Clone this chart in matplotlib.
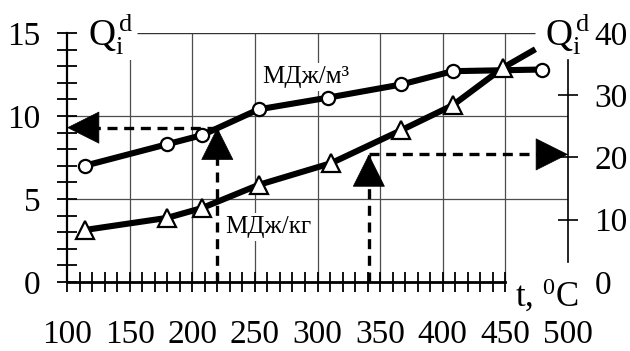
import matplotlib
matplotlib.use("Agg")
import matplotlib.pyplot as plt
from matplotlib.ticker import MultipleLocator

plt.rcParams['font.family'] = ['Liberation Serif', 'DejaVu Serif']
plt.rcParams['mathtext.fontset'] = 'custom'
plt.rcParams['mathtext.rm'] = 'Liberation Serif'
plt.rcParams['mathtext.it'] = 'Liberation Serif:italic'

# data
temp_m3 = [114, 180, 208, 253, 308, 367, 408, 479]
q_m3 = [7.0, 8.3, 8.85, 10.4, 11.1, 11.9, 12.7, 12.8]          # left axis, МДж/м3
temp_kg = [114, 180, 208, 253, 311, 367, 408, 448, 474]
q_kg = [8.35, 10.3, 11.9, 15.6, 19.1, 24.4, 28.4, 34.4, 37.4]   # right axis, МДж/кг

read_t_m3, read_q_m3 = 220, 9.3     # dashed read-off on the m3 curve
read_t_kg, read_q_kg = 341, 20.5    # dashed read-off on the kg curve

x_ticks = [100, 150, 200, 250, 300, 350, 400, 450, 500]
left_ticks = [0, 5, 10, 15]
right_ticks = [0, 10, 20, 30, 40]

fig = plt.figure(figsize=(6.3, 3.51), dpi=100)
ax = fig.add_axes([67/630, 69/351, 501/630, 249/351])
ax2 = ax.twinx()
ax.set_xlim(100, 500)
ax.set_ylim(0, 15)
ax2.set_ylim(0, 40)
ax2.patch.set_visible(False)

# grid
ax.vlines(x_ticks[1:-1], 0, 15, colors='0.3', lw=0.9, zorder=1)
ax.hlines(left_ticks[1:-1], 100, 500, colors='0.3', lw=0.9, zorder=1)

# spines
for s in ['top', 'right']:
    ax.spines[s].set_visible(False)
for s in ['top', 'left', 'bottom']:
    ax2.spines[s].set_visible(False)
ax.spines['left'].set_linewidth(1.6)
ax.spines['bottom'].set_linewidth(2.0)
ax.spines['bottom'].set_bounds(100, 450)
ax2.spines['right'].set_linewidth(1.2)
ax2.spines['right'].set_bounds(3.2, 35.7)
ax.hlines(15, 156, 474, colors='0.2', lw=1.0, zorder=1)

# ticks
ax.set_xticks(x_ticks)
ax.set_xticks([v for v in range(110, 450, 10) if v % 50], minor=True)
ax.set_yticks(left_ticks)
ax.yaxis.set_minor_locator(MultipleLocator(1))
ax.tick_params(which='both', direction='inout', length=14, width=1.3, labelsize=24)
ax.tick_params(axis='x', which='both', pad=20)
ax.tick_params(axis='y', which='both', pad=12)
ax.xaxis.get_major_ticks()[-1].tick1line.set_visible(False)

ax2.set_yticks(right_ticks)
ax2.tick_params(direction='inout', length=14, width=1.2, labelsize=24, pad=12)
ax2.yaxis.get_major_ticks()[0].tick2line.set_visible(False)
ax2.yaxis.get_major_ticks()[-1].tick2line.set_visible(False)

# curves
ax.plot(temp_m3, q_m3, color='k', lw=4.4, marker='o', ms=9.5, mfc='white',
        mec='k', mew=1.6, zorder=5, solid_capstyle='butt')
ax.plot(temp_kg, q_kg, color='k', lw=4.4, marker='^', ms=13.5, mfc='white',
        mec='k', mew=1.6, markevery=list(range(len(temp_kg) - 1)),
        transform=ax2.transData, zorder=5, solid_capstyle='butt')

# dashed read-off lines with solid heads
dash = dict(color='k', lw=2.4, ls=(0, (3, 2)), zorder=3)
head = dict(arrowstyle='-|>,head_length=0.8,head_width=0.4', lw=0.5,
            color='k', shrinkA=0, shrinkB=0, mutation_scale=28)
ax.plot([read_t_m3, read_t_m3], [0, read_q_m3], **dash)
ax.plot([read_t_m3, 100], [read_q_m3, read_q_m3], **dash)
ax.plot([read_t_kg, read_t_kg], [0, read_q_kg], transform=ax2.transData, **dash)
ax.plot([read_t_kg, 500], [read_q_kg, read_q_kg], transform=ax2.transData, **dash)
ax.annotate('', xy=(read_t_m3, read_q_m3), xytext=(0, -17), textcoords='offset points',
            arrowprops=head, zorder=4)
ax.annotate('', xy=(100, read_q_m3), xytext=(17, 0), textcoords='offset points',
            arrowprops=head, zorder=4, annotation_clip=False)
ax.annotate('', xy=(read_t_kg, read_q_kg), xycoords=ax2.transData, xytext=(0, -17),
            textcoords='offset points', arrowprops=head, zorder=4)
ax.annotate('', xy=(500, read_q_kg), xycoords=ax2.transData, xytext=(-17, 0),
            textcoords='offset points', arrowprops=head, zorder=4, annotation_clip=False)

# labels
box = dict(facecolor='white', edgecolor='none', pad=2)
qlabel = r'$\mathrm{Q}_{\mathrm{i}}^{\,\mathrm{d}}$'
ax.text(116.8, 14.2, qlabel, fontsize=27, ha='left',
        va='baseline', bbox=box, zorder=2.6, clip_on=False)
ax.text(481.6, 14.2, qlabel, fontsize=27, ha='left',
        va='baseline', bbox=box, zorder=2.6, clip_on=False)
ax.text(255.7, 12.0, 'МДж/м³', fontsize=18, ha='left', va='baseline', bbox=box, zorder=2.6)
ax.text(226, 2.95, 'МДж/кг', fontsize=18, ha='left', va='baseline', bbox=box, zorder=2.6)
ax.text(457.7, -1.5, r't, $^{\mathrm{0}}$C', fontsize=25, ha='left', va='baseline',
        bbox=box, zorder=2.6, clip_on=False)

fig.savefig('out.png', dpi=100)
